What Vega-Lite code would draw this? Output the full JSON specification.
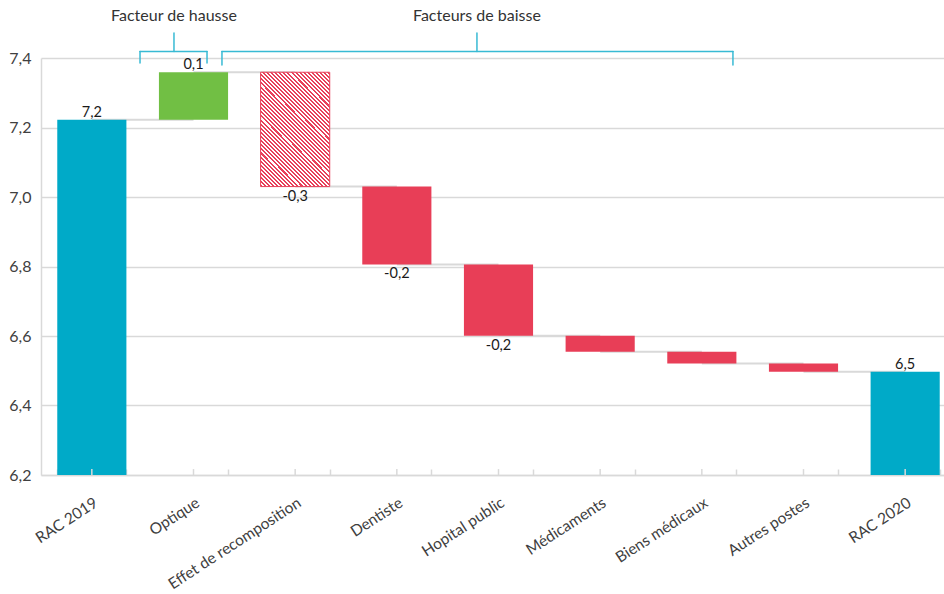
{
  "$schema": "https://vega.github.io/schema/vega-lite/v6.json",
  "width": 903,
  "height": 417,
  "autosize": {"type": "none"},
  "padding": {"left": 41, "top": 58, "right": 0, "bottom": 119},
  "background": "white",
  "config": {"view": {"stroke": null}, "font": "Lato"},
  "datasets": {
    "bars": [
      {"cat": "RAC 2019", "type": "total", "start": 6.2, "end": 7.222, "next": "Optique", "label": "7,2"},
      {"cat": "Optique", "type": "hausse", "start": 7.222, "end": 7.359, "next": "Effet de recomposition", "label": "0,1"},
      {"cat": "Effet de recomposition", "type": "baisse", "start": 7.359, "end": 7.03, "next": "Dentiste", "label": "-0,3"},
      {"cat": "Dentiste", "type": "baisse", "start": 7.03, "end": 6.806, "next": "Hopital public", "label": "-0,2"},
      {"cat": "Hopital public", "type": "baisse", "start": 6.806, "end": 6.601, "next": "Médicaments", "label": "-0,2"},
      {"cat": "Médicaments", "type": "baisse", "start": 6.601, "end": 6.555, "next": "Biens médicaux", "label": ""},
      {"cat": "Biens médicaux", "type": "baisse", "start": 6.555, "end": 6.521, "next": "Autres postes", "label": ""},
      {"cat": "Autres postes", "type": "baisse", "start": 6.521, "end": 6.497, "next": "RAC 2020", "label": ""},
      {"cat": "RAC 2020", "type": "total", "start": 6.2, "end": 6.497, "next": null, "label": "6,5"}
    ],
    "brackets": [
      {"bx": 0.974, "bx2": 1.633, "by": 7.4187, "by2": 7.4187},
      {"bx": 0.974, "bx2": 0.974, "by": 7.3856, "by2": 7.4187},
      {"bx": 1.633, "bx2": 1.633, "by": 7.3856, "by2": 7.4187},
      {"bx": 1.308, "bx2": 1.308, "by": 7.4187, "by2": 7.472},
      {"bx": 1.78, "bx2": 6.806, "by": 7.4187, "by2": 7.4187},
      {"bx": 1.78, "bx2": 1.78, "by": 7.38, "by2": 7.4187},
      {"bx": 6.806, "bx2": 6.806, "by": 7.38, "by2": 7.4187},
      {"bx": 4.288, "bx2": 4.288, "by": 7.4187, "by2": 7.472}
    ],
    "titles": [
      {"tx": 1.308, "ty": 7.521, "text": "Facteur de hausse"},
      {"tx": 4.288, "ty": 7.521, "text": "Facteurs de baisse"}
    ]
  },
  "layer": [
    {
      "data": {"name": "bars"},
      "encoding": {
        "x": {
          "field": "cat",
          "type": "nominal",
          "sort": null,
          "title": null,
          "scale": {
            "domain": ["RAC 2019", "Optique", "Effet de recomposition", "Dentiste", "Hopital public", "Médicaments", "Biens médicaux", "Autres postes", "RAC 2020"],
            "range": [0, 915],
            "paddingInner": 0.32,
            "paddingOuter": 0.16
          },
          "axis": {
            "domainColor": "#d9d9d9",
            "domainWidth": 1.5,
            "tickBand": "extent",
            "tickColor": "#d9d9d9",
            "tickWidth": 1.5,
            "tickSize": -6,
            "labelAngle": -33,
            "labelAlign": "right",
            "labelBaseline": "top",
            "labelFontSize": 15.5,
            "labelColor": "#404040",
            "labelFont": "Lato",
            "labelPadding": 26,
            "grid": false
          }
        }
      },
      "layer": [
        {
          "transform": [{"filter": "datum.next != null"}],
          "mark": {"type": "rule", "color": "#d9d9d9", "strokeWidth": 2},
          "encoding": {
            "x2": {"field": "next"},
            "y": {"field": "end", "type": "quantitative", "scale": {"domain": [6.2, 7.4], "nice": false, "zero": false}}
          }
        },
        {
          "transform": [{"filter": "datum.cat != 'Effet de recomposition'"}],
          "mark": {"type": "bar"},
          "encoding": {
            "y": {
              "field": "start",
              "type": "quantitative",
              "title": null,
              "scale": {"domain": [6.2, 7.4], "nice": false, "zero": false},
              "axis": {
                "values": [6.2, 6.4, 6.6, 6.8, 7.0, 7.2, 7.4],
                "labelExpr": "replace(format(datum.value, '.1f'), '.', ',')",
                "domainColor": "#d9d9d9",
                "domainWidth": 1.5,
                "ticks": false,
                "grid": true,
                "gridColor": "#d9d9d9",
                "gridWidth": 1.5,
                "labelFontSize": 16,
                "labelColor": "#404040",
                "labelFont": "Lato",
                "labelPadding": 10
              }
            },
            "y2": {"field": "end"},
            "color": {
              "field": "type",
              "type": "nominal",
              "legend": null,
              "scale": {"domain": ["total", "hausse", "baisse"], "range": ["#00AAC8", "#71BF44", "#E83E57"]}
            }
          }
        },
        {
          "transform": [{"filter": "datum.cat == 'Effet de recomposition'"}],
          "mark": {
            "type": "bar",
            "stroke": "#E8405A",
            "strokeWidth": 1,
            "fill": {
              "gradient": "linear",
              "x1": 0, "y1": 1, "x2": 1, "y2": -0.644,
              "stops": [
                {"offset": 0, "color": "#e8405a"}, {"offset": 0.008, "color": "#e8405a"}, {"offset": 0.008, "color": "#fff"}, {"offset": 0.016, "color": "#fff"},
                {"offset": 0.016, "color": "#e8405a"}, {"offset": 0.024, "color": "#e8405a"}, {"offset": 0.024, "color": "#fff"}, {"offset": 0.032, "color": "#fff"},
                {"offset": 0.032, "color": "#e8405a"}, {"offset": 0.04, "color": "#e8405a"}, {"offset": 0.04, "color": "#fff"}, {"offset": 0.048, "color": "#fff"},
                {"offset": 0.048, "color": "#e8405a"}, {"offset": 0.056, "color": "#e8405a"}, {"offset": 0.056, "color": "#fff"}, {"offset": 0.064, "color": "#fff"},
                {"offset": 0.064, "color": "#e8405a"}, {"offset": 0.072, "color": "#e8405a"}, {"offset": 0.072, "color": "#fff"}, {"offset": 0.08, "color": "#fff"},
                {"offset": 0.08, "color": "#e8405a"}, {"offset": 0.088, "color": "#e8405a"}, {"offset": 0.088, "color": "#fff"}, {"offset": 0.096, "color": "#fff"},
                {"offset": 0.096, "color": "#e8405a"}, {"offset": 0.104, "color": "#e8405a"}, {"offset": 0.104, "color": "#fff"}, {"offset": 0.112, "color": "#fff"},
                {"offset": 0.112, "color": "#e8405a"}, {"offset": 0.12, "color": "#e8405a"}, {"offset": 0.12, "color": "#fff"}, {"offset": 0.128, "color": "#fff"},
                {"offset": 0.128, "color": "#e8405a"}, {"offset": 0.136, "color": "#e8405a"}, {"offset": 0.136, "color": "#fff"}, {"offset": 0.144, "color": "#fff"},
                {"offset": 0.144, "color": "#e8405a"}, {"offset": 0.152, "color": "#e8405a"}, {"offset": 0.152, "color": "#fff"}, {"offset": 0.16, "color": "#fff"},
                {"offset": 0.16, "color": "#e8405a"}, {"offset": 0.168, "color": "#e8405a"}, {"offset": 0.168, "color": "#fff"}, {"offset": 0.176, "color": "#fff"},
                {"offset": 0.176, "color": "#e8405a"}, {"offset": 0.184, "color": "#e8405a"}, {"offset": 0.184, "color": "#fff"}, {"offset": 0.192, "color": "#fff"},
                {"offset": 0.192, "color": "#e8405a"}, {"offset": 0.2, "color": "#e8405a"}, {"offset": 0.2, "color": "#fff"}, {"offset": 0.208, "color": "#fff"},
                {"offset": 0.208, "color": "#e8405a"}, {"offset": 0.216, "color": "#e8405a"}, {"offset": 0.216, "color": "#fff"}, {"offset": 0.224, "color": "#fff"},
                {"offset": 0.224, "color": "#e8405a"}, {"offset": 0.232, "color": "#e8405a"}, {"offset": 0.232, "color": "#fff"}, {"offset": 0.24, "color": "#fff"},
                {"offset": 0.24, "color": "#e8405a"}, {"offset": 0.248, "color": "#e8405a"}, {"offset": 0.248, "color": "#fff"}, {"offset": 0.256, "color": "#fff"},
                {"offset": 0.256, "color": "#e8405a"}, {"offset": 0.264, "color": "#e8405a"}, {"offset": 0.264, "color": "#fff"}, {"offset": 0.272, "color": "#fff"},
                {"offset": 0.272, "color": "#e8405a"}, {"offset": 0.28, "color": "#e8405a"}, {"offset": 0.28, "color": "#fff"}, {"offset": 0.288, "color": "#fff"},
                {"offset": 0.288, "color": "#e8405a"}, {"offset": 0.296, "color": "#e8405a"}, {"offset": 0.296, "color": "#fff"}, {"offset": 0.304, "color": "#fff"},
                {"offset": 0.304, "color": "#e8405a"}, {"offset": 0.312, "color": "#e8405a"}, {"offset": 0.312, "color": "#fff"}, {"offset": 0.32, "color": "#fff"},
                {"offset": 0.32, "color": "#e8405a"}, {"offset": 0.328, "color": "#e8405a"}, {"offset": 0.328, "color": "#fff"}, {"offset": 0.336, "color": "#fff"},
                {"offset": 0.336, "color": "#e8405a"}, {"offset": 0.344, "color": "#e8405a"}, {"offset": 0.344, "color": "#fff"}, {"offset": 0.352, "color": "#fff"},
                {"offset": 0.352, "color": "#e8405a"}, {"offset": 0.36, "color": "#e8405a"}, {"offset": 0.36, "color": "#fff"}, {"offset": 0.368, "color": "#fff"},
                {"offset": 0.368, "color": "#e8405a"}, {"offset": 0.376, "color": "#e8405a"}, {"offset": 0.376, "color": "#fff"}, {"offset": 0.384, "color": "#fff"},
                {"offset": 0.384, "color": "#e8405a"}, {"offset": 0.392, "color": "#e8405a"}, {"offset": 0.392, "color": "#fff"}, {"offset": 0.4, "color": "#fff"},
                {"offset": 0.4, "color": "#e8405a"}, {"offset": 0.408, "color": "#e8405a"}, {"offset": 0.408, "color": "#fff"}, {"offset": 0.416, "color": "#fff"},
                {"offset": 0.416, "color": "#e8405a"}, {"offset": 0.424, "color": "#e8405a"}, {"offset": 0.424, "color": "#fff"}, {"offset": 0.432, "color": "#fff"},
                {"offset": 0.432, "color": "#e8405a"}, {"offset": 0.44, "color": "#e8405a"}, {"offset": 0.44, "color": "#fff"}, {"offset": 0.448, "color": "#fff"},
                {"offset": 0.448, "color": "#e8405a"}, {"offset": 0.456, "color": "#e8405a"}, {"offset": 0.456, "color": "#fff"}, {"offset": 0.464, "color": "#fff"},
                {"offset": 0.464, "color": "#e8405a"}, {"offset": 0.472, "color": "#e8405a"}, {"offset": 0.472, "color": "#fff"}, {"offset": 0.48, "color": "#fff"},
                {"offset": 0.48, "color": "#e8405a"}, {"offset": 0.488, "color": "#e8405a"}, {"offset": 0.488, "color": "#fff"}, {"offset": 0.496, "color": "#fff"},
                {"offset": 0.496, "color": "#e8405a"}, {"offset": 0.504, "color": "#e8405a"}, {"offset": 0.504, "color": "#fff"}, {"offset": 0.512, "color": "#fff"},
                {"offset": 0.512, "color": "#e8405a"}, {"offset": 0.52, "color": "#e8405a"}, {"offset": 0.52, "color": "#fff"}, {"offset": 0.528, "color": "#fff"},
                {"offset": 0.528, "color": "#e8405a"}, {"offset": 0.536, "color": "#e8405a"}, {"offset": 0.536, "color": "#fff"}, {"offset": 0.544, "color": "#fff"},
                {"offset": 0.544, "color": "#e8405a"}, {"offset": 0.552, "color": "#e8405a"}, {"offset": 0.552, "color": "#fff"}, {"offset": 0.56, "color": "#fff"},
                {"offset": 0.56, "color": "#e8405a"}, {"offset": 0.568, "color": "#e8405a"}, {"offset": 0.568, "color": "#fff"}, {"offset": 0.576, "color": "#fff"},
                {"offset": 0.576, "color": "#e8405a"}, {"offset": 0.584, "color": "#e8405a"}, {"offset": 0.584, "color": "#fff"}, {"offset": 0.592, "color": "#fff"},
                {"offset": 0.592, "color": "#e8405a"}, {"offset": 0.6, "color": "#e8405a"}, {"offset": 0.6, "color": "#fff"}, {"offset": 0.608, "color": "#fff"},
                {"offset": 0.608, "color": "#e8405a"}, {"offset": 0.616, "color": "#e8405a"}, {"offset": 0.616, "color": "#fff"}, {"offset": 0.624, "color": "#fff"},
                {"offset": 0.624, "color": "#e8405a"}, {"offset": 0.632, "color": "#e8405a"}, {"offset": 0.632, "color": "#fff"}, {"offset": 0.64, "color": "#fff"},
                {"offset": 0.64, "color": "#e8405a"}, {"offset": 0.648, "color": "#e8405a"}, {"offset": 0.648, "color": "#fff"}, {"offset": 0.656, "color": "#fff"},
                {"offset": 0.656, "color": "#e8405a"}, {"offset": 0.664, "color": "#e8405a"}, {"offset": 0.664, "color": "#fff"}, {"offset": 0.672, "color": "#fff"},
                {"offset": 0.672, "color": "#e8405a"}, {"offset": 0.68, "color": "#e8405a"}, {"offset": 0.68, "color": "#fff"}, {"offset": 0.688, "color": "#fff"},
                {"offset": 0.688, "color": "#e8405a"}, {"offset": 0.696, "color": "#e8405a"}, {"offset": 0.696, "color": "#fff"}, {"offset": 0.704, "color": "#fff"},
                {"offset": 0.704, "color": "#e8405a"}, {"offset": 0.712, "color": "#e8405a"}, {"offset": 0.712, "color": "#fff"}, {"offset": 0.72, "color": "#fff"},
                {"offset": 0.72, "color": "#e8405a"}, {"offset": 0.728, "color": "#e8405a"}, {"offset": 0.728, "color": "#fff"}, {"offset": 1, "color": "#fff"}
              ]
            }
          },
          "encoding": {
            "y": {"field": "start", "type": "quantitative", "scale": {"domain": [6.2, 7.4], "nice": false, "zero": false}},
            "y2": {"field": "end"}
          }
        },
        {
          "mark": {"type": "rule", "color": "#d9d9d9", "strokeWidth": 1.5},
          "encoding": {
            "y": {"datum": 6.2, "type": "quantitative", "scale": {"domain": [6.2, 7.4], "nice": false, "zero": false}},
            "y2": {"datum": 6.217}
          }
        },
        {
          "transform": [{"filter": "datum.type != 'baisse' && datum.label != ''"}],
          "mark": {"type": "text", "baseline": "alphabetic", "dy": -3, "fontSize": 14.5, "color": "#1a1a1a", "font": "Lato"},
          "encoding": {
            "y": {"field": "end", "type": "quantitative", "scale": {"domain": [6.2, 7.4], "nice": false, "zero": false}},
            "text": {"field": "label"}
          }
        },
        {
          "transform": [{"filter": "datum.type == 'baisse' && datum.label != ''"}],
          "mark": {"type": "text", "baseline": "top", "dy": 3, "fontSize": 14.5, "color": "#1a1a1a", "font": "Lato"},
          "encoding": {
            "y": {"field": "end", "type": "quantitative", "scale": {"domain": [6.2, 7.4], "nice": false, "zero": false}},
            "text": {"field": "label"}
          }
        }
      ]
    },
    {
      "data": {"name": "brackets"},
      "mark": {"type": "rule", "color": "#38BAD4", "strokeWidth": 1.5, "strokeCap": "round"},
      "encoding": {
        "x": {"field": "bx", "type": "quantitative", "axis": null, "scale": {"domain": [0, 9], "range": [0, 915], "nice": false, "zero": false}},
        "x2": {"field": "bx2"},
        "y": {"field": "by", "type": "quantitative", "axis": null, "scale": {"domain": [6.2, 7.4], "nice": false, "zero": false}},
        "y2": {"field": "by2"}
      }
    },
    {
      "data": {"name": "titles"},
      "mark": {"type": "text", "baseline": "middle", "align": "center", "fontSize": 16, "color": "#333333", "font": "Lato"},
      "encoding": {
        "x": {"field": "tx", "type": "quantitative", "axis": null, "scale": {"domain": [0, 9], "range": [0, 915], "nice": false, "zero": false}},
        "y": {"field": "ty", "type": "quantitative", "axis": null, "scale": {"domain": [6.2, 7.4], "nice": false, "zero": false}},
        "text": {"field": "text"}
      }
    }
  ],
  "resolve": {"scale": {"x": "independent"}, "axis": {"x": "independent", "y": "independent"}}
}
